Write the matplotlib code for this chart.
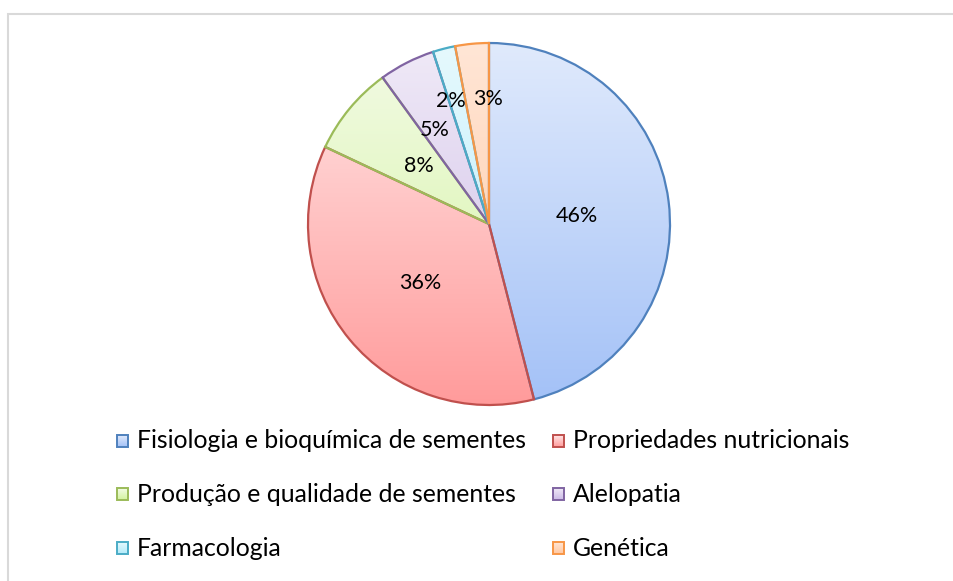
import numpy as np
import matplotlib
matplotlib.use("Agg")
import matplotlib.pyplot as plt
from matplotlib.patches import Rectangle
from matplotlib.colors import to_rgb

categories = ["Fisiologia e bioquímica de sementes", "Propriedades nutricionais",
              "Produção e qualidade de sementes", "Alelopatia", "Farmacologia", "Genética"]
values = [46, 36, 8, 5, 2, 3]
pct_labels = ["46%", "36%", "8%", "5%", "2%", "3%"]

edge_colors = ["#4F81BD", "#C0504D", "#9BBB59", "#8064A2", "#4BACC6", "#F79646"]
top_colors = ["#E0EAFC", "#FFE6E6", "#F3FBE6", "#F0EAF7", "#E6F9FD", "#FFE6D6"]
bot_colors = ["#A3C1F7", "#FF9B9B", "#D2F39E", "#CBB9E6", "#B2EBFA", "#FFC7A0"]
label_dist = [0.49, 0.50, 0.50, 0.60, 0.71, 0.69]
label_shift = [-2, 1, 0, 3, 3, -5]

plt.rcParams['font.family'] = ['Lato', 'DejaVu Sans']

W, H = 954, 581
fig = plt.figure(figsize=(W / 100, H / 100), dpi=100)
ax = fig.add_axes([0, 0, 1, 1])
ax.set_xlim(0, W)
ax.set_ylim(0, H)
ax.axis("off")

# outer frame
fig.patches.append(Rectangle((8.5 / W, -0.1), 1.1, (H - 13.5) / H + 0.1, transform=fig.transFigure,
                             fill=False, edgecolor="#D9D9D9", linewidth=1.5))

cx, cy, R = 489, H - 224, 181
wedges, _ = ax.pie(values, startangle=90, counterclock=False, center=(cx, cy), radius=R,
                   frame=True, wedgeprops=dict(linewidth=1.6))
ax.set_xlim(0, W)
ax.set_ylim(0, H)
ax.set_aspect("equal")
ax.axis("off")

t = np.linspace(0, 1, 256)[:, None]
for w, ec, tc, bc in zip(wedges, edge_colors, top_colors, bot_colors):
    a, b = np.array(to_rgb(tc)), np.array(to_rgb(bc))
    img = a[None, None, :] * (1 - t[:, :, None]) + b[None, None, :] * t[:, :, None]
    im = ax.imshow(img, extent=(cx - R, cx + R, cy - R, cy + R), origin="upper",
                   aspect="auto", zorder=1)
    im.set_clip_path(w)
    w.set_facecolor("none")
    w.set_edgecolor(ec)
    w.set_zorder(2)

for w, lab, d, s in zip(wedges, pct_labels, label_dist, label_shift):
    ang = np.deg2rad((w.theta1 + w.theta2) / 2 + s)
    ax.text(cx + d * R * np.cos(ang), cy + d * R * np.sin(ang), lab, ha="center", va="center",
            fontsize=15.5, color="#000000", zorder=3)

# legend
col_x = [117, 553]
row_y = [441, 494, 548]
for i, (lab, ec, tc, bc) in enumerate(zip(categories, edge_colors, top_colors, bot_colors)):
    r, c = divmod(i, 2)
    x0, y0 = col_x[c], H - row_y[r]
    a, b = np.array(to_rgb(tc)), np.array(to_rgb(bc))
    sq = Rectangle((x0, y0 - 6), 11, 12, facecolor="none", edgecolor=ec, linewidth=1.4, zorder=3)
    ax.add_patch(sq)
    img = a[None, None, :] * (1 - t[:, :, None]) + b[None, None, :] * t[:, :, None]
    im = ax.imshow(img, extent=(x0, x0 + 11, y0 - 6, y0 + 6), origin="upper", aspect="auto", zorder=2)
    im.set_clip_path(sq)
    ax.text(x0 + 20, y0, lab, ha="left", va="center", fontsize=17.8, color="#000000")

ax.set_xlim(0, W)
ax.set_ylim(0, H)
fig.savefig("out.png", dpi=100)
